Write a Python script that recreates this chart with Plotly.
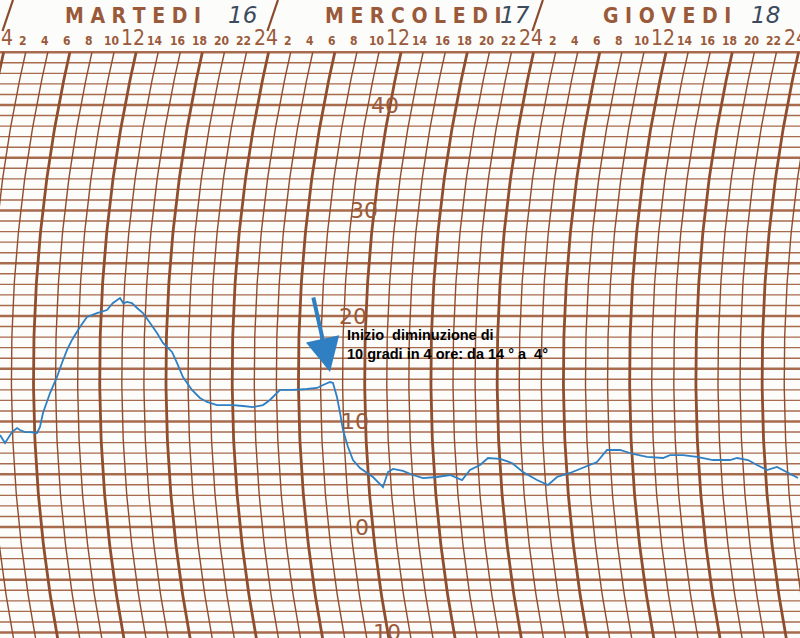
import numpy as np
import plotly.graph_objects as go

# ---------------- data read from the thermograph ----------------
# time in hours from Tuesday 0:00, temperature in degrees C
trace_hours = [-0.27, 0.18, 0.82, 1.27, 1.54, 1.99, 2.45, 3.08, 3.35, 3.62, 4.26, 4.89,
               5.34, 5.80, 6.25, 6.97, 7.61, 8.51, 9.42, 9.96, 10.60, 10.9, 11.23, 11.68,
               12.14, 12.68, 13.32, 13.95, 14.49, 15.31, 15.76, 16.30, 17.12, 17.84,
               18.48, 19.38, 20.29, 20.83, 21.74, 22.64, 23.55, 24.18, 25.09, 26.27,
               27.54, 28.44, 28.99, 29.62, 29.89, 30.25, 30.53, 30.80, 31.25, 31.70,
               32.34, 33.51, 34.42, 34.87, 35.33, 36.23, 37.14, 38.04, 39.31, 40.49,
               41.58, 42.30, 43.21, 43.93, 45.02, 46.10, 47.10, 48.37, 49.37, 50.18,
               51.36, 52.54, 53.80, 54.71, 55.89, 57.07, 58.33, 59.78, 60.42, 61.59,
               62.86, 64.31, 65.85, 66.49, 67.48, 68.30, 69.20, 70.11, 71.01, 72.01]
trace_temps = [8.72, 7.96, 9.00, 9.38, 9.19, 9.00, 9.00, 8.91, 9.48, 10.81, 12.70, 14.22,
               15.55, 16.78, 17.73, 18.96, 19.91, 20.28, 20.57, 21.23, 21.71, 21.2, 21.33, 21.23,
               20.76, 20.28, 19.34, 18.39, 17.44, 16.59, 15.55, 14.22, 12.99, 12.23,
               11.85, 11.56, 11.56, 11.56, 11.47, 11.37, 11.56, 12.04, 12.99, 12.99,
               13.08, 13.18, 13.46, 13.74, 13.65, 12.32, 10.81, 9.19, 7.58, 6.35,
               5.59, 4.74, 3.79, 5.21, 5.50, 5.31, 4.93, 4.64, 4.74, 4.93,
               4.45, 5.40, 5.88, 6.54, 6.45, 6.07, 5.21, 4.45, 3.98, 4.74,
               5.12, 5.59, 6.16, 7.30, 7.30, 6.92, 6.64, 6.54, 6.82, 6.82,
               6.64, 6.35, 6.35, 6.54, 6.35, 5.88, 5.40, 5.69, 5.21, 4.64]

day_names = ["M A R T E D I", "M E R C O L E D I", "G I O V E D I"]
day_numbers = ["16", "17", "18"]
hour_ticks = list(range(0, 73, 2))
temp_label_values = [40, 30, 20, 10, 0, -10]
temp_label_texts = ["40", "30", "20", "10", "0", "10"]
note_text = "Inizio  diminuzione di<br>10 gradi in 4 ore: da 14 ° a  4°"
note_time = 29.62
note_temp = 14.69

# ---------------- chart-paper geometry ----------------
W, H = 800, 638
PX_PER_H = 11.04
X0 = 3.0
PX_PER_DEG = 10.55
Y0 = 527.0
X_RANGE = [(0 - X0) / PX_PER_H, (W - X0) / PX_PER_H]
Y_RANGE = [(Y0 - H) / PX_PER_DEG, Y0 / PX_PER_DEG]

R = 1450.0
YC = 375.0
Y_TOP_PX = 55.0
T_TOP = 45
T_BOTTOM = -10.8

BROWN_V = "#8f4e2e"
BROWN_H = "#a86b4e"
BROWN_TXT = "#9a5a3a"
BLUE = "#2f7fc3"


def t_to_py(t):
    return Y0 - PX_PER_DEG * np.asarray(t, dtype=float)


def px_to_h(px):
    return (px - X0) / PX_PER_H


def py_to_t(py):
    return (Y0 - py) / PX_PER_DEG


def arc_shift_h(t):
    y = t_to_py(t)
    return (np.sqrt(R ** 2 - (Y_TOP_PX - YC) ** 2) - np.sqrt(R ** 2 - (y - YC) ** 2)) / PX_PER_H


fig = go.Figure()

# horizontal (temperature) lines
for thick in (False, True):
    xs, ys = [], []
    for t in range(-10, T_TOP + 1):
        if (t % 5 == 0) != thick:
            continue
        xs += [X_RANGE[0] - 2, X_RANGE[1] + 2, None]
        ys += [t, t, None]
    fig.add_trace(go.Scatter(x=xs, y=ys, mode="lines", hoverinfo="skip",
                             line=dict(color=BROWN_H, width=2.3 if thick else 1.4)))

# curved (time) lines
tt = np.linspace(T_BOTTOM, T_TOP, 120)
for thick in (False, True):
    xs, ys = [], []
    for h in range(-4, 80, 2):
        if (h % 6 == 0) != thick:
            continue
        xs += list(h + arc_shift_h(tt)) + [None]
        ys += list(tt) + [None]
    fig.add_trace(go.Scatter(x=xs, y=ys, mode="lines", hoverinfo="skip",
                             line=dict(color=BROWN_V, width=2.8 if thick else 1.4)))

# temperature trace
fig.add_trace(go.Scatter(x=trace_hours, y=trace_temps, mode="lines", hoverinfo="skip",
                         line=dict(color=BLUE, width=1.8)))

annotations = []
CFONT = "Liberation Sans Narrow, DejaVu Sans Condensed, Liberation Sans, Arial"

# hour labels on top
for h in hour_ticks:
    hr = h % 24
    big = hr in (0, 12)
    annotations.append(dict(
        x=h - 0.2, y=py_to_t(38 if big else 41), xref="x", yref="y",
        text="<b>%d</b>" % (24 if hr == 0 else hr) if not big else "%d" % (24 if hr == 0 else hr),
        showarrow=False,
        font=dict(family=CFONT, size=21 if big else 12, color=BROWN_TXT)))

# day names and handwritten dates
day_name_px = [133, 413, 667]
day_num_px = [242, 515, 765]
for i, name in enumerate(day_names):
    annotations.append(dict(x=px_to_h(day_name_px[i]), y=py_to_t(16), xref="x", yref="y",
                            text="<b>%s</b>" % name, showarrow=False,
                            font=dict(family=CFONT, size=21, color=BROWN_TXT)))
    annotations.append(dict(x=px_to_h(day_num_px[i]), y=py_to_t(15), xref="x", yref="y",
                            text="<i>%s</i>" % day_numbers[i], showarrow=False,
                            font=dict(family="DejaVu Sans, Liberation Sans", size=23,
                                      color="#3b4a5e")))

# temperature labels along an arc
temp_label_px = [385, 364, 353, 355, 362, 387]
for v, txt, px in zip(temp_label_values, temp_label_texts, temp_label_px):
    annotations.append(dict(x=px_to_h(px), y=v, xref="x", yref="y", text=txt,
                            showarrow=False,
                            font=dict(family="DejaVu Sans, Liberation Sans", size=22,
                                      color=BROWN_TXT)))

# arrow and note
annotations.append(dict(x=note_time, y=note_temp, xref="x", yref="y", text="",
                        showarrow=True, ax=-17, ay=-76, arrowhead=2, arrowsize=1.7,
                        arrowwidth=4, arrowcolor=BLUE, standoff=0))
annotations.append(dict(x=px_to_h(345), y=py_to_t(344), xref="x", yref="y",
                        text="<b>%s</b>" % note_text, showarrow=False,
                        xanchor="left", yanchor="middle", align="left",
                        font=dict(family="Liberation Sans, Arial", size=14.5, color="#000000")))

# slashes at day boundaries in the header
shapes = []
for d in (0, 24, 48):
    xb = X0 + PX_PER_H * d
    shapes.append(dict(type="line", xref="x", yref="y",
                       x0=px_to_h(xb + 10), y0=py_to_t(0),
                       x1=px_to_h(xb - 0.5), y1=py_to_t(31),
                       line=dict(color="#8a4a2c", width=2.2)))

fig.update_layout(
    width=W, height=H, margin=dict(l=0, r=0, t=0, b=0),
    paper_bgcolor="#fcfcfa", plot_bgcolor="#fcfcfa",
    showlegend=False,
    xaxis=dict(range=X_RANGE, visible=False, fixedrange=True),
    yaxis=dict(range=Y_RANGE, visible=False, fixedrange=True),
    annotations=annotations, shapes=shapes,
)

fig.write_html("out.html", config={"displayModeBar": False},
               post_script="document.body.style.margin='0';document.body.style.overflow='hidden';")
